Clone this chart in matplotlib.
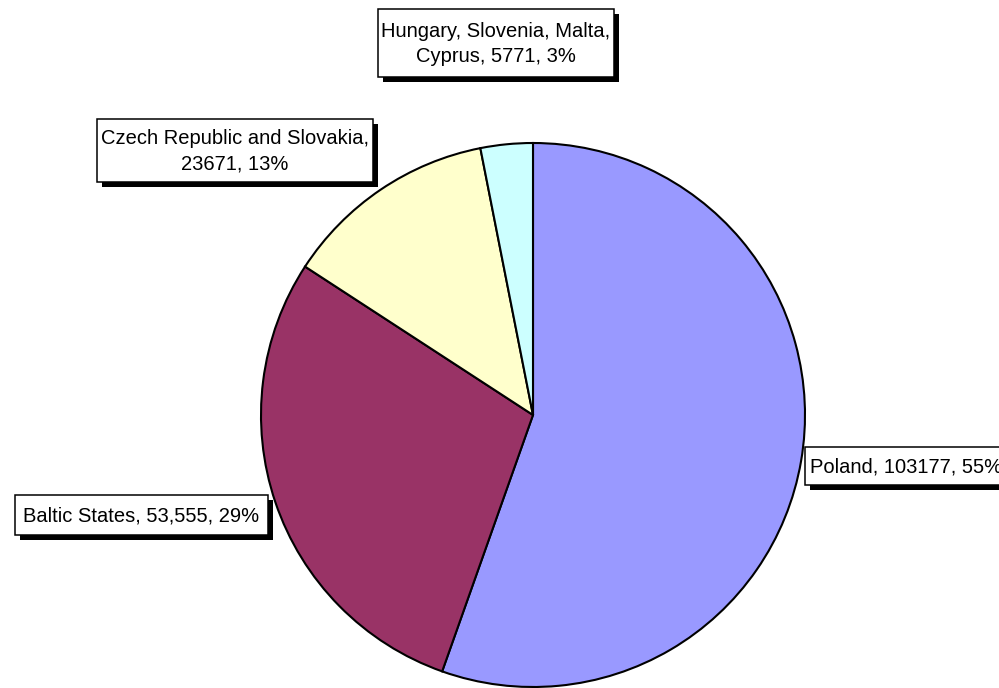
import matplotlib.pyplot as plt
from matplotlib.patches import Rectangle

regions = ['Poland', 'Baltic States', 'Czech Republic and Slovakia',
           'Hungary, Slovenia, Malta, Cyprus']
values = [103177, 53555, 23671, 5771]
value_text = ['103177', '53,555', '23671', '5771']
colors = ['#9999FF', '#993366', '#FFFFCC', '#CCFFFF']

# label boxes in pixel coords: left, top, right, bottom
boxes = [(805, 447, 1010, 485),
         (15, 495, 268, 535),
         (97, 119, 373, 182),
         (378, 9, 614, 77)]

total = sum(values)
pcts = [round(v / total * 100) for v in values]

labels = []
for name, vt, p in zip(regions, value_text, pcts):
    labels.append(f'{name}, {vt}, {p}%')
labels[2] = labels[2].replace('Slovakia, ', 'Slovakia,\n')
labels[3] = labels[3].replace('Malta, ', 'Malta,\n')

plt.rcParams['font.family'] = ['Liberation Sans', 'DejaVu Sans']

fig = plt.figure(figsize=(9.99, 6.88), dpi=100)
ax = fig.add_axes([0, 0, 1, 1])

# y axis runs downward, so start at -90 and go counterclockwise in data
ax.pie(values, colors=colors, center=(533, 415), radius=272,
       startangle=-90, counterclock=True,
       wedgeprops=dict(edgecolor='black', linewidth=1.5))

ax.set_xlim(0, 999)
ax.set_ylim(688, 0)
ax.axis('off')

for i, (lab, (x0, y0, x1, y1)) in enumerate(zip(labels, boxes)):
    w, h = x1 - x0, y1 - y0
    ax.add_patch(Rectangle((x0 + 5, y0 + 5), w, h, facecolor='black',
                           edgecolor='none', zorder=5))
    ax.add_patch(Rectangle((x0, y0), w, h, facecolor='white',
                           edgecolor='black', linewidth=1.1, zorder=6))
    if i == 0:
        ax.text(x0 + 5, (y0 + y1) / 2 + 1, lab, ha='left', va='center',
                fontsize=14.5, zorder=7)
    else:
        ax.text((x0 + x1) / 2, (y0 + y1) / 2 + 1, lab, ha='center',
                va='center', fontsize=14.5, linespacing=1.45, zorder=7)

fig.savefig('out.png', dpi=100)
